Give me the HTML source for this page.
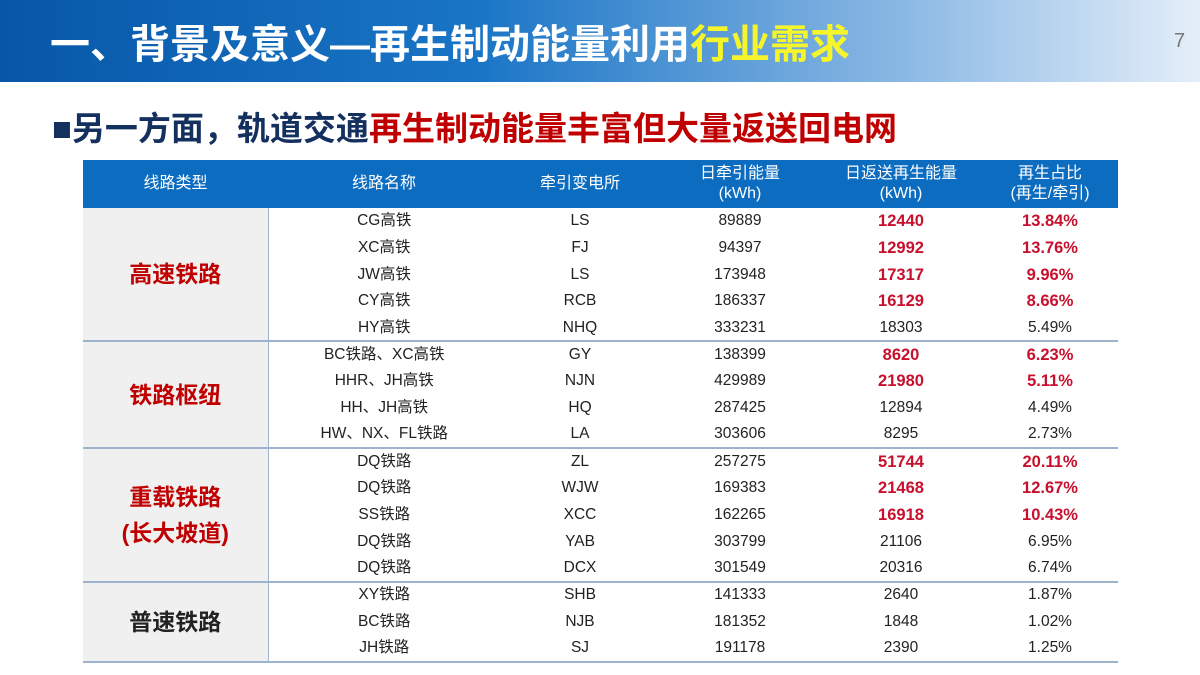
<!DOCTYPE html>
<html><head><meta charset="utf-8"><style>
*{margin:0;padding:0;box-sizing:border-box}
body{width:1200px;height:675px;background:#fff;position:relative;overflow:hidden;font-family:"Liberation Sans","Noto Sans CJK SC",sans-serif}
.hdr{position:absolute;left:0;top:0;width:1200px;height:82px;background:linear-gradient(90deg,#0757a8 0%,#1a75c6 40%,#8ab8e4 75%,#e4eef9 100%)}
.hdr h1{position:absolute;left:50px;top:12px;font-size:40px;color:#fff;font-weight:bold;letter-spacing:0px}
.hdr h1 span{color:#f5f52a}
.pg{position:absolute;left:1174px;top:30px;font-size:20px;color:#777}
.sub{position:absolute;left:52px;top:102px;font-size:33px;font-weight:bold;color:#14305e}
.sub .r{color:#c00000}
table{position:absolute;left:83px;top:160px;width:1035px;border-collapse:collapse;font-size:15.5px;color:#222}
th{background:#0c6cc0;color:#fff;font-weight:normal;font-size:16px;height:48px;line-height:20px}
td{height:26.7px;text-align:center;padding:0;line-height:18px}
td.g{background:#f0f0f0;font-size:23px;font-weight:bold;border-right:1.5px solid #9db2cc;line-height:36px}
tr.s td{border-top:2px solid #9db2cc}
tr.last td, td.gl{border-bottom:2px solid #9db2cc}
.red{color:#c00000}
.b{color:#c8102e;font-weight:bold;font-size:16.5px}
</style></head><body>
<div class="hdr"><h1>一、背景及意义—再生制动能量利用<span>行业需求</span></h1></div>
<div class="pg">7</div>
<div class="sub">■另一方面，轨道交通<span class="r">再生制动能量丰富但大量返送回电网</span></div>
<table>
<colgroup><col style="width:185px"><col style="width:232px"><col style="width:160px"><col style="width:160px"><col style="width:162px"><col style="width:136px"></colgroup>
<tr><th>线路类型</th><th>线路名称</th><th>牵引变电所</th><th>日牵引能量<br>(kWh)</th><th>日返送再生能量<br>(kWh)</th><th>再生占比<br>(再生/牵引)</th></tr>
<tr><td class="g red" rowspan="5">高速铁路</td><td>CG高铁</td><td>LS</td><td>89889</td><td class="b">12440</td><td class="b">13.84%</td></tr>
<tr><td>XC高铁</td><td>FJ</td><td>94397</td><td class="b">12992</td><td class="b">13.76%</td></tr>
<tr><td>JW高铁</td><td>LS</td><td>173948</td><td class="b">17317</td><td class="b">9.96%</td></tr>
<tr><td>CY高铁</td><td>RCB</td><td>186337</td><td class="b">16129</td><td class="b">8.66%</td></tr>
<tr><td>HY高铁</td><td>NHQ</td><td>333231</td><td>18303</td><td>5.49%</td></tr>
<tr class="s"><td class="g red" rowspan="4">铁路枢纽</td><td>BC铁路、XC高铁</td><td>GY</td><td>138399</td><td class="b">8620</td><td class="b">6.23%</td></tr>
<tr><td>HHR、JH高铁</td><td>NJN</td><td>429989</td><td class="b">21980</td><td class="b">5.11%</td></tr>
<tr><td>HH、JH高铁</td><td>HQ</td><td>287425</td><td>12894</td><td>4.49%</td></tr>
<tr><td>HW、NX、FL铁路</td><td>LA</td><td>303606</td><td>8295</td><td>2.73%</td></tr>
<tr class="s"><td class="g red" rowspan="5">重载铁路<br>(长大坡道)</td><td>DQ铁路</td><td>ZL</td><td>257275</td><td class="b">51744</td><td class="b">20.11%</td></tr>
<tr><td>DQ铁路</td><td>WJW</td><td>169383</td><td class="b">21468</td><td class="b">12.67%</td></tr>
<tr><td>SS铁路</td><td>XCC</td><td>162265</td><td class="b">16918</td><td class="b">10.43%</td></tr>
<tr><td>DQ铁路</td><td>YAB</td><td>303799</td><td>21106</td><td>6.95%</td></tr>
<tr><td>DQ铁路</td><td>DCX</td><td>301549</td><td>20316</td><td>6.74%</td></tr>
<tr class="s"><td class="g gl" rowspan="3">普速铁路</td><td>XY铁路</td><td>SHB</td><td>141333</td><td>2640</td><td>1.87%</td></tr>
<tr><td>BC铁路</td><td>NJB</td><td>181352</td><td>1848</td><td>1.02%</td></tr>
<tr class="last"><td>JH铁路</td><td>SJ</td><td>191178</td><td>2390</td><td>1.25%</td></tr>
</table>
</body></html>
